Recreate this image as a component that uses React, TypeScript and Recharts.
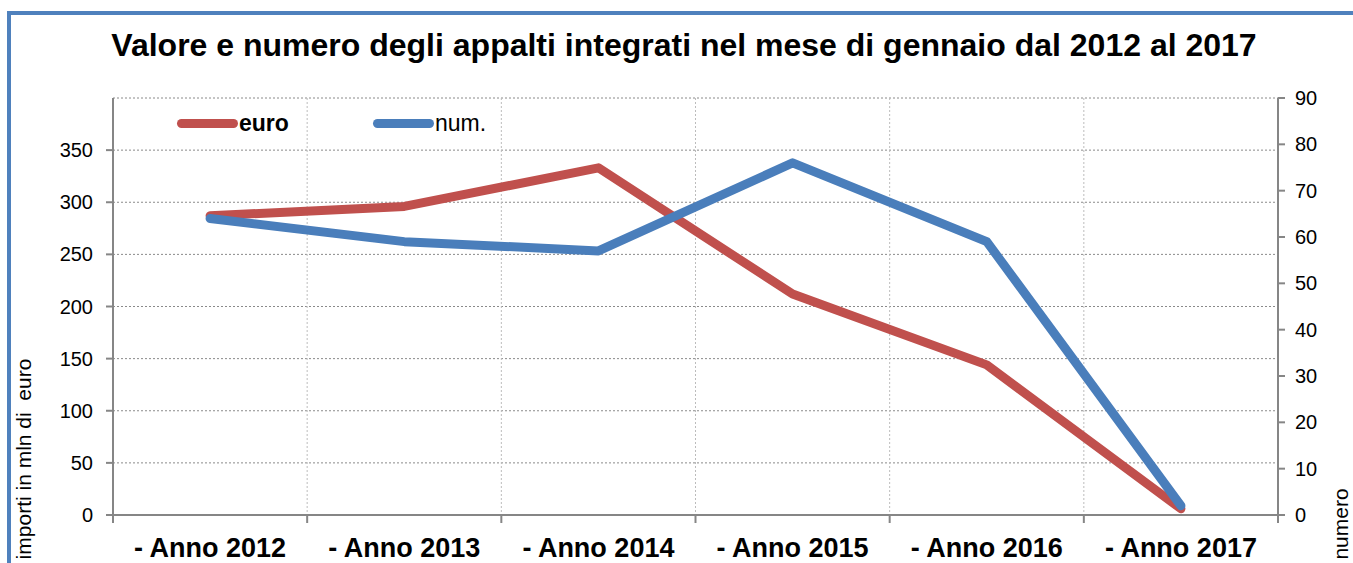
import { CartesianGrid, Legend, Line, LineChart, XAxis, YAxis } from "recharts";

const categories = [
  "- Anno 2012",
  "- Anno 2013",
  "- Anno 2014",
  "- Anno 2015",
  "- Anno 2016",
  "- Anno 2017",
];
const euroValues = [287, 296, 333, 212, 144, 6]; // importi in mln di euro
const numValues = [64, 59, 57, 76, 59, 2]; // numero appalti
const leftTicks = [0, 50, 100, 150, 200, 250, 300, 350];
const rightTicks = [0, 10, 20, 30, 40, 50, 60, 70, 80, 90];
const boundaryTicks = categories.map((_, i) => i).concat(categories.length);

const title = "Valore e numero degli appalti integrati nel mese di gennaio dal 2012 al 2017";
const leftTitle = "importi in mln di  euro";
const rightTitle = "numero";

const series = [
  { key: "euro", name: "euro", color: "#C0504D", bold: true, axis: "left" },
  { key: "num", name: "num.", color: "#4A7EBB", bold: false, axis: "right" },
];

const data = categories.map((label, i) => ({
  pos: i + 0.5, // centre of the category band
  label,
  euro: euroValues[i],
  num: numValues[i],
}));

const W = 1353;
const H = 563;
const PLOT = { left: 113, right: 1278, top: 98, bottom: 515 };
const BAND = (PLOT.right - PLOT.left) / categories.length;
const FONT = '"Liberation Sans", Arial, sans-serif';
const AXIS = "#868686";

// labels sit in the middle of each band, tick marks on the band edges
function YearTick(props: { x?: number; y?: number; payload?: { value: number } }) {
  const i = props.payload?.value ?? 0;
  if (i >= categories.length) return <g />;
  return (
    <text
      x={(props.x ?? 0) + BAND / 2}
      y={props.y}
      dy="0.71em"
      textAnchor="middle"
      fontFamily={FONT}
      fontWeight="bold"
      fontSize={27}
      fill="#000"
    >
      {categories[i]}
    </text>
  );
}

function ChartLegend() {
  return (
    <div style={{ display: "flex", fontFamily: FONT, fontSize: 23, color: "#000" }}>
      {series.map((s) => (
        <div key={s.key} style={{ width: 196, display: "flex", alignItems: "center", height: 24 }}>
          <span
            style={{
              display: "inline-block",
              width: 61,
              height: 9,
              borderRadius: 5,
              background: s.color,
              marginRight: 1,
            }}
          />
          <span style={{ fontWeight: s.bold ? "bold" : "normal" }}>{s.name}</span>
        </div>
      ))}
    </div>
  );
}

export default function App() {
  const tickStyle = { fontFamily: FONT, fontSize: 20, fill: "#000" };
  return (
    <div
      style={{
        position: "absolute",
        left: 0,
        top: 0,
        width: W,
        height: H,
        overflow: "hidden",
        background: "#fff",
      }}
    >
      <div
        style={{
          position: "absolute",
          left: 7,
          top: 11,
          width: 1400,
          height: 620,
          border: "4px solid #4F81BD",
          boxSizing: "border-box",
        }}
      />
      <LineChart
        width={W}
        height={H}
        data={data}
        margin={{ top: PLOT.top, right: 0, bottom: 0, left: 0 }}
        style={{ position: "absolute", left: 0, top: 0 }}
      >
        <CartesianGrid
          yAxisId="left"
          vertical={false}
          stroke="#8a8a8a"
          strokeDasharray="2 2"
        />
        <CartesianGrid
          yAxisId="left"
          horizontal={false}
          stroke="#bcbcbc"
          strokeDasharray="2 2"
        />
        <XAxis
          dataKey="pos"
          type="number"
          domain={[0, categories.length]}
          ticks={boundaryTicks}
          interval={0}
          height={H - PLOT.bottom}
          tickSize={8}
          tickMargin={15}
          axisLine={{ stroke: AXIS, strokeWidth: 2 }}
          tickLine={{ stroke: AXIS, strokeWidth: 2 }}
          tick={<YearTick />}
        />
        <YAxis
          yAxisId="left"
          orientation="left"
          width={PLOT.left}
          domain={[0, 400]}
          ticks={leftTicks}
          interval={0}
          tickSize={7}
          tickMargin={13}
          axisLine={{ stroke: AXIS, strokeWidth: 2 }}
          tickLine={{ stroke: AXIS, strokeWidth: 2 }}
          tick={tickStyle}
        />
        <YAxis
          yAxisId="right"
          orientation="right"
          width={W - PLOT.right}
          domain={[0, 90]}
          ticks={rightTicks}
          interval={0}
          tickSize={7}
          tickMargin={10}
          axisLine={{ stroke: AXIS, strokeWidth: 2 }}
          tickLine={{ stroke: AXIS, strokeWidth: 2 }}
          tick={tickStyle}
        />
        <Legend
          layout="horizontal"
          verticalAlign="middle"
          align="center"
          content={<ChartLegend />}
          wrapperStyle={{ left: 177, top: 111, width: "auto", height: "auto" }}
        />
        {series.map((s) => (
          <Line
            key={s.key}
            yAxisId={s.axis}
            dataKey={s.key}
            name={s.name}
            stroke={s.color}
            strokeWidth={9}
            strokeLinecap="round"
            strokeLinejoin="round"
            dot={false}
            activeDot={false}
            isAnimationActive={false}
          />
        ))}
      </LineChart>
      <svg
        width={W}
        height={H}
        style={{ position: "absolute", left: 0, top: 0, pointerEvents: "none" }}
      >
        <text
          x={684}
          y={56}
          textAnchor="middle"
          fontFamily={FONT}
          fontWeight="bold"
          fontSize={32}
          fill="#000"
        >
          {title}
        </text>
        <text
          transform="translate(31 459) rotate(-90)"
          textAnchor="middle"
          fontFamily={FONT}
          fontSize={21}
          fill="#000"
          style={{ whiteSpace: "pre" }}
        >
          {leftTitle}
        </text>
        <text
          transform="translate(1348 524) rotate(-90)"
          textAnchor="middle"
          fontFamily={FONT}
          fontSize={21}
          fill="#000"
        >
          {rightTitle}
        </text>
      </svg>
    </div>
  );
}
